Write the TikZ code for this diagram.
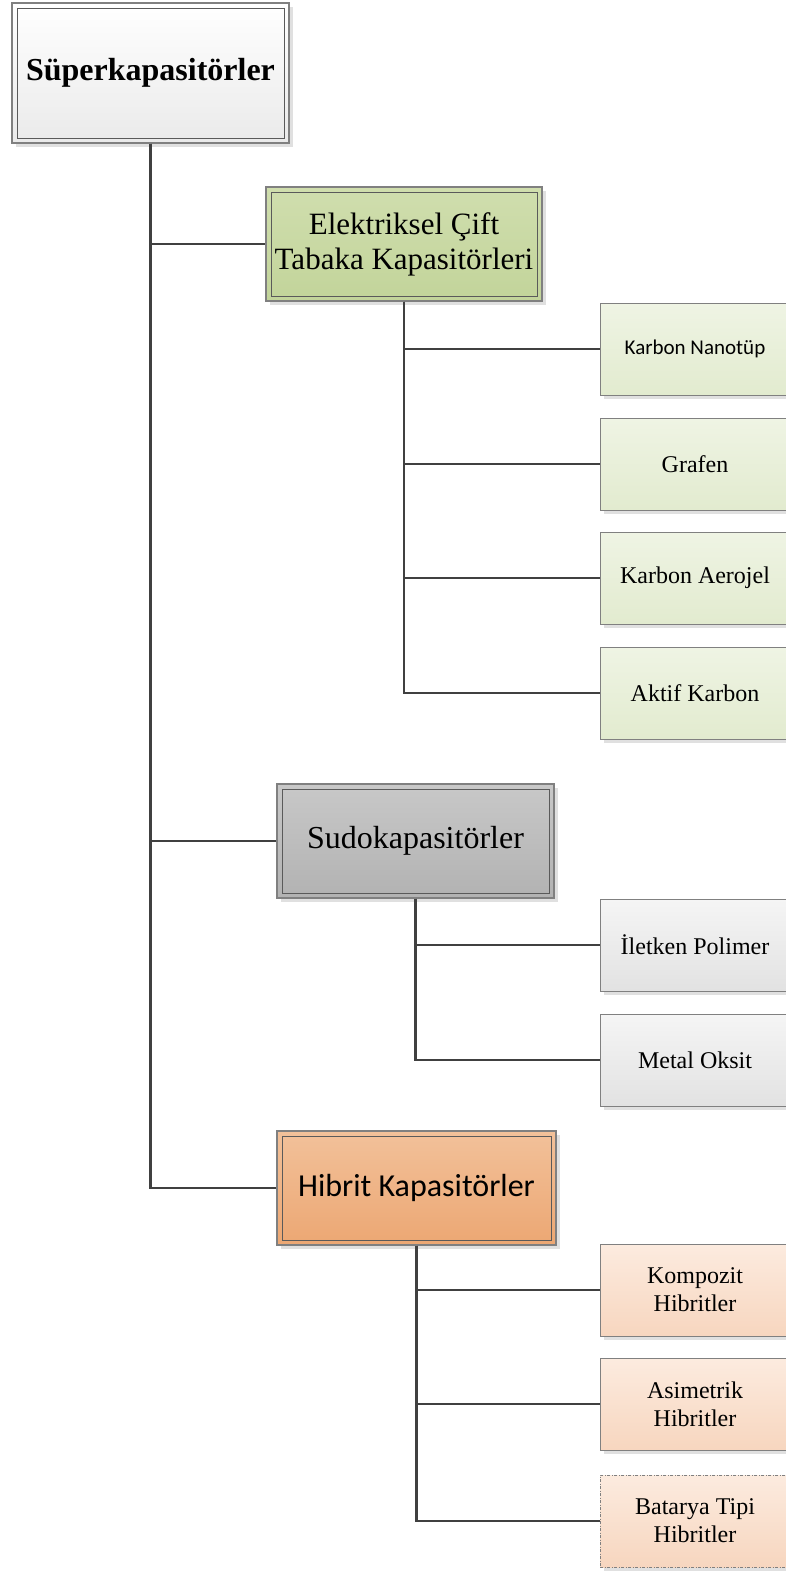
\documentclass[tikz,border=0pt]{standalone}
\usepackage{fontspec}
\setmainfont{Liberation Serif}
\newfontfamily\calfont{Carlito}
\usetikzlibrary{shadows}
\definecolor{conn}{HTML}{404040}
\definecolor{bord}{HTML}{808080}
\definecolor{inb}{HTML}{5A5A5A}
\definecolor{topA}{HTML}{FFFFFF}
\definecolor{topB}{HTML}{EAEAEA}
\definecolor{grA}{HTML}{D0DEAE}
\definecolor{grB}{HTML}{C2D49A}
\definecolor{lgA}{HTML}{EFF4E4}
\definecolor{lgB}{HTML}{E2EBCF}
\definecolor{gyA}{HTML}{C8C8C8}
\definecolor{gyB}{HTML}{B2B2B2}
\definecolor{lyA}{HTML}{F5F5F5}
\definecolor{lyB}{HTML}{E2E2E2}
\definecolor{orA}{HTML}{F2C19A}
\definecolor{orB}{HTML}{ECA773}
\definecolor{loA}{HTML}{FCEBDF}
\definecolor{loB}{HTML}{F7D6BF}
\begin{document}
\begin{tikzpicture}[x=1pt,y=-1pt,
  conline/.style={draw=conn, line width=2.3pt},
  boxshadow/.style={drop shadow={shadow xshift=4pt, shadow yshift=-4pt, fill=black!30, opacity=.4}},
  mainbox/.style={draw=bord, line width=1.3pt, boxshadow, align=center, inner sep=0pt,
    path picture={\draw[inb, line width=0.8pt] ([shift={(5pt,-5pt)}]path picture bounding box.north west) rectangle ([shift={(-5pt,5pt)}]path picture bounding box.south east);}},
  leafbox/.style={draw=bord, line width=1pt, boxshadow, align=center, inner sep=0pt,
    minimum width=190pt, minimum height=92pt, font=\fontsize{24}{28}\selectfont},
  greenleaf/.style={leafbox, top color=lgA, bottom color=lgB},
  grayleaf/.style={leafbox, top color=lyA, bottom color=lyB},
  orangeleaf/.style={leafbox, top color=loA, bottom color=loB},
  mainfont/.style={font=\fontsize{32}{36}\selectfont}
]
\useasboundingbox (0,0) rectangle (786,1575);
\clip (0,0) rectangle (786,1575);

% main boxes
\node[mainbox, top color=topA, bottom color=topB, minimum width=277pt, minimum height=140pt,
  font=\fontsize{32}{36}\selectfont\bfseries] (sup) at (150.5,73) {Süperkapasitörler};
\node[mainbox, top color=grA, bottom color=grB, minimum width=276pt, minimum height=114pt,
  font=\fontsize{31}{35}\selectfont] (edlc) at (404,244) {Elektriksel Çift\\Tabaka Kapasitörleri};
\node[mainbox, mainfont, top color=gyA, bottom color=gyB, minimum width=277pt, minimum height=114pt] (sudo) at (415.5,841) {Sudokapasitörler};
\node[mainbox, top color=orA, bottom color=orB, minimum width=279pt, minimum height=114pt,
  font=\fontsize{32}{36}\calfont] (hib) at (416.5,1188) {Hibrit Kapasitörler};

% leaves
\node[greenleaf, font=\fontsize{21}{25}\calfont] (kn) at (695,349) {Karbon Nanotüp};
\node[greenleaf] (gr) at (695,464) {Grafen};
\node[greenleaf] (ka) at (695,578) {Karbon Aerojel};
\node[greenleaf] (ak) at (695,693) {Aktif Karbon};
\node[grayleaf] (ip) at (695,945) {İletken Polimer};
\node[grayleaf] (mo) at (695,1060) {Metal Oksit};
\node[orangeleaf] (kh) at (695,1290) {Kompozit\\Hibritler};
\node[orangeleaf] (ah) at (695,1404) {Asimetrik\\Hibritler};
\node[orangeleaf, dash pattern=on 3pt off 1.5pt on 1pt off 1.5pt] (bt) at (695,1521) {Batarya Tipi\\Hibritler};

% connectors
\draw[conline] (sup.south) |- (edlc.west);
\draw[conline] (sup.south) |- (sudo.west);
\draw[conline] (sup.south) |- (hib.west);
\draw[conline] (edlc.south) |- (kn.west);
\draw[conline] (edlc.south) |- (gr.west);
\draw[conline] (edlc.south) |- (ka.west);
\draw[conline] (edlc.south) |- (ak.west);
\draw[conline] (sudo.south) |- (ip.west);
\draw[conline] (sudo.south) |- (mo.west);
\draw[conline] (hib.south) |- (kh.west);
\draw[conline] (hib.south) |- (ah.west);
\draw[conline] (hib.south) |- (bt.west);
\end{tikzpicture}
\end{document}
